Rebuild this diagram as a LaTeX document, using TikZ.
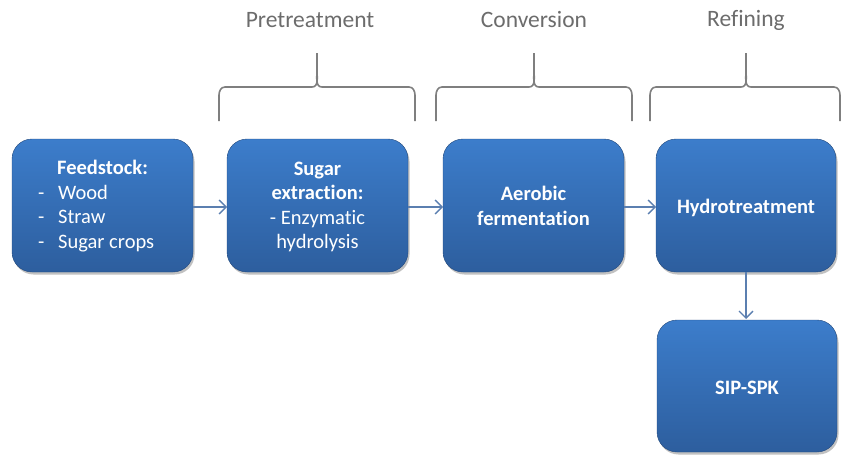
\documentclass[tikz,border=0pt]{standalone}
\usepackage{fontspec}
\setmainfont{Carlito}[Ligatures=NoCommon]
\usetikzlibrary{arrows.meta,shadows}
\definecolor{boxtop}{HTML}{3C7DCB}
\definecolor{boxbot}{HTML}{2D5E9E}
\definecolor{flowline}{HTML}{5B7FB0}
\definecolor{bracegray}{HTML}{7F7F7F}
\newcommand{\boxfont}{\fontsize{20.5}{24.5}\selectfont}
\newcommand{\itemdash}[1]{\makebox[22pt][l]{\hspace*{2pt}-}#1}
\tikzset{
  x=1pt, y=-1pt,
  procbox/.style={rounded corners=20pt, top color=boxtop, bottom color=boxbot,
    draw=boxbot!80!black, line width=0.4pt,
    drop shadow={shadow xshift=1.5pt, shadow yshift=-2.5pt, opacity=0.35, fill=black!70}},
  boxtext/.style={text=white, font=\boxfont, align=center, inner sep=0pt},
  flow/.style={draw=flowline, line width=1.3pt, -{Straight Barb[length=7pt,width=14pt,line width=1.3pt]}},
  stagebrace/.style={draw=bracegray, line width=1.6pt},
  stagelabel/.style={text=bracegray!85!black, font=\fontsize{23.5}{28}\selectfont},
}
\begin{document}
\begin{tikzpicture}
\useasboundingbox (0,0) rectangle (841,455);

% process boxes
\path[procbox] (12,139) rectangle (193,272);
\node[boxtext, align=left, anchor=west] (feed) at (36,206)
  {\hspace*{21pt}\textbf{Feedstock:}\\\itemdash{Wood}\\\itemdash{Straw}\\\itemdash{Sugar crops}};

\path[procbox] (227,139) rectangle (408,272);
\node[boxtext] (sugar) at (317.5,207)
  {\textbf{Sugar}\\\textbf{extraction:}\\- Enzymatic\\hydrolysis};

\path[procbox] (443,139) rectangle (624,272);
\node[boxtext] (aero) at (533.5,206)
  {\textbf{Aerobic}\\\textbf{fermentation}};

\path[procbox] (656,139) rectangle (836,272);
\node[boxtext] (hydro) at (746,208)
  {\textbf{Hydrotreatment}};

\path[procbox] (657,320) rectangle (837,452);
\node[boxtext] (spk) at (747,388)
  {\textbf{SIP-SPK}};

% anchor points on box edges
\coordinate (o1) at (193,207);
\coordinate (i2) at (227,207);
\coordinate (o2) at (408,207);
\coordinate (i3) at (443,207);
\coordinate (o3) at (624,207);
\coordinate (i4) at (656,207);
\coordinate (o4) at (746,272);
\coordinate (i5) at (746,319);

% connectors
\draw[flow] (o1) -- (i2);
\draw[flow] (o2) -- (i3);
\draw[flow] (o3) -- (i4);
\draw[flow] (o4) -- (i5);

% stage braces
\foreach \l/\c/\r in {219/317/415, 436/534/632, 650/746/840}{
  \draw[stagebrace] (\l,121) -- (\l,95) to[out=90,in=180] (\l+6,87)
    -- (\c-5,87) to[out=0,in=270] (\c,70) -- (\c,53);
  \draw[stagebrace] (\r,121) -- (\r,95) to[out=90,in=0] (\r-6,87)
    -- (\c+5,87) to[out=180,in=270] (\c,70);
}
\node[stagelabel] (lp) at (310,20) {Pretreatment};
\node[stagelabel] (lc) at (534,20) {Conversion};
\node[stagelabel] (lr) at (746,20) {Refining};
\end{tikzpicture}
\end{document}
